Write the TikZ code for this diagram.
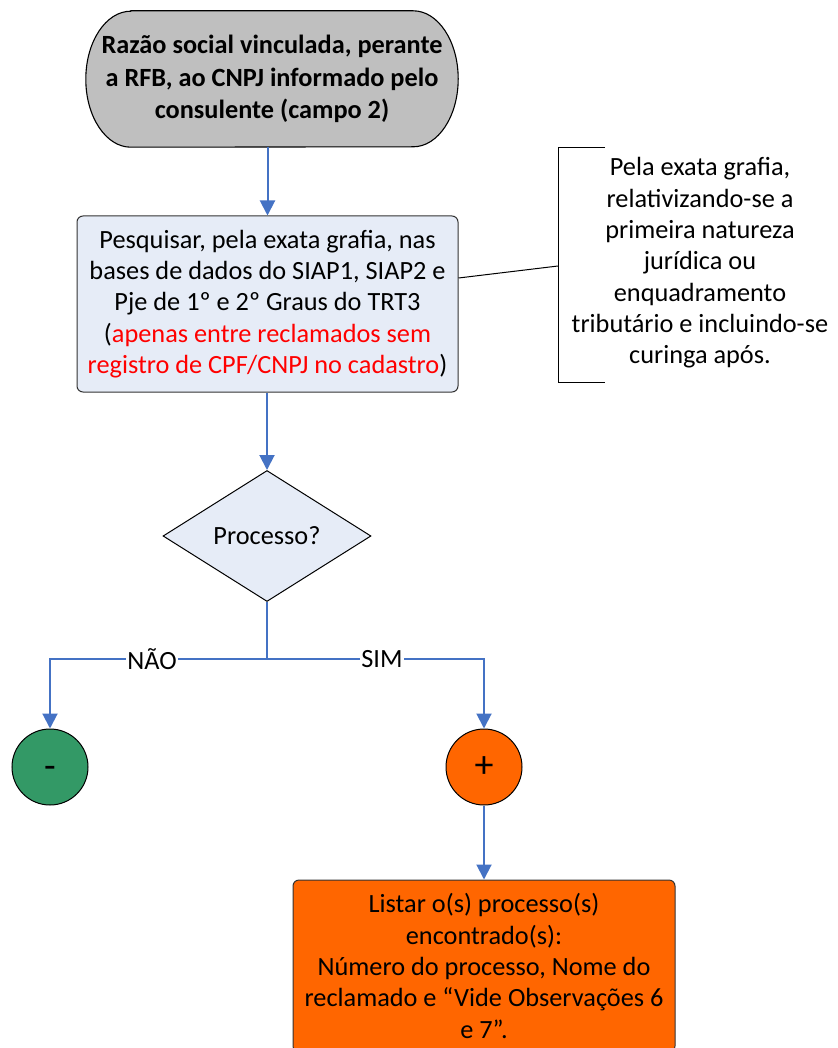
\documentclass[tikz,border=0pt]{standalone}
\usepackage{fontspec}
\setmainfont{Carlito}
\usetikzlibrary{arrows.meta,shapes.geometric,backgrounds}
\definecolor{flowblue}{RGB}{68,114,196}
\definecolor{termgray}{RGB}{191,191,191}
\definecolor{paleblue}{RGB}{230,236,247}
\definecolor{okgreen}{RGB}{51,153,102}
\definecolor{hotorange}{RGB}{255,102,0}
\definecolor{alertred}{RGB}{255,0,0}
\tikzset{
  terminal/.style={minimum width=372pt, minimum height=136pt, align=center, inner sep=0pt,
    font=\fontsize{26.3}{32.5}\selectfont\bfseries},
  terminaledge/.style={draw=black, line width=1.1pt, fill=termgray},
  procbox/.style={draw=black!80, line width=1pt, rounded corners=6pt, align=center,
    inner sep=0pt, font=\fontsize{26.3}{31.3}\selectfont},
  decision/.style={diamond, draw=black, line width=1pt, fill=paleblue, inner sep=0pt,
    minimum width=208pt, minimum height=131pt, font=\fontsize{26.3}{30}\selectfont},
  endpoint/.style={circle, draw=black, line width=1pt, minimum size=76pt, inner sep=0pt,
    font=\fontsize{38}{38}\selectfont},
  note/.style={align=center, inner sep=0pt, font=\fontsize{26.3}{31.3}\selectfont},
  conn/.style={draw=flowblue, line width=2pt},
  flowarrow/.style={conn, -{Triangle[width=15pt,length=15pt]}},
  branchlbl/.style={fill=white, inner sep=1pt, font=\fontsize{26.3}{30}\selectfont},
  bracketline/.style={draw=black, line width=1pt}
}
\begin{document}
\begin{tikzpicture}[x=1pt,y=-1pt]
\clip (0,0) rectangle (837,1048);
\useasboundingbox (0,0) rectangle (837,1048);

% start terminal: text node with an outline of elliptic ends behind it
\node[terminal] (start) at (272,79)
  {Razão social vinculada, perante\\a RFB, ao CNPJ informado pelo\\consulente (campo 2)};
\begin{scope}[on background layer]
  \path[terminaledge] ([xshift=45pt]start.north west) -- ([xshift=-45pt]start.north east)
    arc[start angle=-90, end angle=90, x radius=45, y radius=68]
    -- ([xshift=45pt]start.south west)
    arc[start angle=90, end angle=270, x radius=45, y radius=68] -- cycle;
\end{scope}

% search step
\node[procbox, fill=paleblue, minimum width=381pt, minimum height=176pt] (search) at (267.5,304)
  {Pesquisar, pela exata grafia, nas\\bases de dados do SIAP1, SIAP2 e\\Pje de 1º e 2º Graus do TRT3\\
   (\textcolor{alertred}{apenas entre reclamados sem}\\
   \textcolor{alertred}{registro de CPF/CNPJ no cadastro})};

% annotation bracket with its text
\node[note] (remark) at (700,263)
  {Pela exata grafia,\\relativizando-se a\\primeira natureza\\jurídica ou\\enquadramento\\tributário e incluindo-se\\curinga após.};
\coordinate (bktop) at (605,148);
\coordinate (bkmid) at (558,266);
\coordinate (bkbot) at (605,382);
\draw[bracketline] (bktop) -- (bktop -| bkmid) -- (bkbot -| bkmid) -- (bkbot);
\draw[bracketline] ([yshift=26pt]search.east) -- (bkmid);

% decision
\node[decision] (decide) at (267,536) {Processo?};

% outcomes (the minus is lowered onto the circle's centre)
\node[endpoint, fill=okgreen] (neg) at (50,767) {\smash{\raisebox{-11pt}{-}}};
\node[endpoint, fill=hotorange] (pos) at (484,767) {+};

% result listing
\node[procbox, fill=hotorange, minimum width=382pt, minimum height=172pt] (listing) at (484,966)
  {Listar o(s) processo(s)\\encontrado(s):\\Número do processo, Nome do\\reclamado e “Vide Observações 6\\e 7”.};

% connectors
\draw[flowarrow] (start.south -| search.north) -- (search.north);
\draw[flowarrow] (search.south -| decide.north) -- (decide.north);
\coordinate (fork) at (267,659);
\draw[conn] (decide.south) -- (fork);
\draw[flowarrow] (fork) -- node[branchlbl, pos=0.53] {NÃO} (fork -| neg) -- (neg.north);
\draw[flowarrow] (fork) -- node[branchlbl, pos=0.53] {SIM} (fork -| pos) -- (pos.north);
\draw[flowarrow] (pos.south) -- (listing.north);
\end{tikzpicture}
\end{document}
